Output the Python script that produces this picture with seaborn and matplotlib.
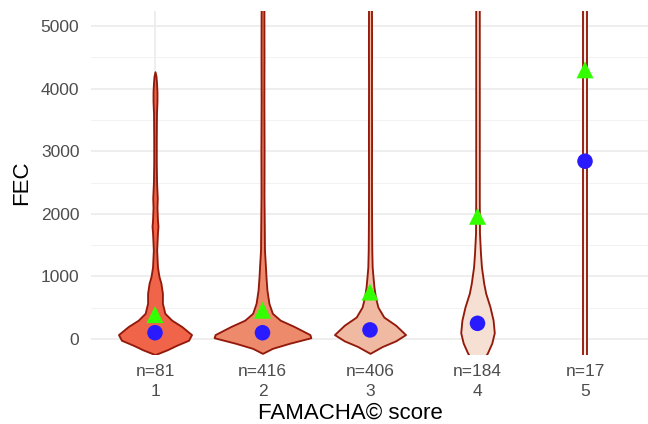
import numpy as np
import pandas as pd
import seaborn as sns
import matplotlib.pyplot as plt
from matplotlib.ticker import MultipleLocator

# FAMACHA score groups and their sample sizes
scores = [1, 2, 3, 4, 5]
n_counts = [81, 416, 406, 184, 17]

# summary points
median_fec = [100, 100, 145, 250, 2840]
mean_fec = [390, 460, 750, 1960, 4300]

# violin profiles: FEC level and relative density (half width) at that level
g1_fec = [-250, -175, -100, -20, 70, 200, 300, 410, 570, 730, 890, 1000, 1150, 1420,
          1700, 1800, 1900, 2100, 2250, 2500, 2800, 3200, 3600, 3800, 3950, 4100, 4200, 4270]
g1_dens = [0, 12, 22, 34, 37, 27, 17, 10, 7.5, 7.5, 6, 4, 2.5, 1.7,
           2.5, 3, 2.5, 2, 2.3, 1.6, 1.3, 1.3, 1.5, 2, 2, 1.5, 1, 0]

g2_fec = [-230, -150, -70, 20, 70, 200, 300, 410, 570, 780, 1000, 1150, 1420, 1800,
          2300, 3000, 3800, 4500, 5400]
g2_dens = [0, 10, 27, 49, 48, 32, 18, 10, 6.5, 4.5, 3.5, 3, 2, 1.8,
           1.5, 1.6, 1.4, 1.5, 1.4]

g3_fec = [-230, -120, -30, 70, 220, 350, 510, 670, 830, 1000, 1150, 1420, 1900, 2500,
          3200, 4000, 4700, 5400]
g3_dens = [0, 12.5, 26, 36, 26, 14, 8, 5.5, 4, 3, 2.2, 1.8, 1.6, 1.5,
           1.6, 1.5, 1.6, 1.5]

g4_fec = [-300, -225, -65, 100, 300, 510, 730, 890, 1150, 1370, 1690, 2200, 3000, 4000, 5400]
g4_dens = [7, 10, 14.5, 17, 15.8, 12.7, 8.3, 6.3, 4, 3, 2, 1.8, 1.8, 1.8, 1.8]

g5_fec = [-300, 5400]
g5_dens = [2.0, 2.0]

profiles = [(g1_fec, g1_dens), (g2_fec, g2_dens), (g3_fec, g3_dens),
            (g4_fec, g4_dens), (g5_fec, g5_dens)]

fills = ["#F0654A", "#EE8A6C", "#F0B9A2", "#F6DFD3", "#FCEFEA"]
outline = "#931A0B"

sns.set_theme(style="whitegrid")
plt.rcParams['font.family'] = ['Liberation Sans', 'DejaVu Sans']

fig = plt.figure(figsize=(6.48, 4.24), dpi=100)
ax = fig.add_axes([90.5 / 648, 1 - 354 / 424, (648 - 90.5) / 648, (354 - 11) / 424])

# widest violin gets a half width of 0.45 category units
max_dens = max(max(d) for _, d in profiles)
scale = 0.45 / max_dens

for x, (fec, dens), fc in zip(scores, profiles, fills):
    fec = np.array(fec)
    half = np.array(dens) * scale
    ax.fill_betweenx(fec, x - half, x + half, facecolor=fc, edgecolor=outline,
                     linewidth=1.35, zorder=2)

df = pd.DataFrame({"score": scores, "median": median_fec, "mean": mean_fec})
sns.scatterplot(data=df, x="score", y="median", color="#2A1AFF", s=125, marker="o",
                edgecolor="none", ax=ax, zorder=3)
sns.scatterplot(data=df, x="score", y="mean", color="#33FF00", s=150, marker="^",
                edgecolor="none", ax=ax, zorder=3)

ax.set_xlim(0.4, 0.4 + 557.5 / 107.5)
ax.set_ylim(-240, 5240)

ax.set_xticks(scores)
ax.set_xticklabels([f"n={n}\n{s}" for n, s in zip(n_counts, scores)])
for lab in ax.get_xticklabels():
    lab.set_linespacing(1.4)
ax.set_yticks([0, 1000, 2000, 3000, 4000, 5000])
ax.yaxis.set_minor_locator(MultipleLocator(500))

ax.grid(which="major", axis="both", color="#EBEBEB", linewidth=1.2)
ax.grid(which="minor", axis="y", color="#F2F2F2", linewidth=0.7)
ax.set_axisbelow(True)
for sp in ax.spines.values():
    sp.set_visible(False)

ax.tick_params(axis="both", which="both", length=0, labelsize=12.5, labelcolor="#4D4D4D")
ax.tick_params(axis="x", pad=7)
ax.tick_params(axis="y", pad=8)

ax.set_xlabel("FAMACHA\u00a9 score", fontsize=16, color="black")
ax.set_ylabel("FEC", fontsize=16, color="black")
ax.xaxis.set_label_coords((350 - 90.5) / 557.5, -0.143)
ax.yaxis.set_label_coords(-0.105, 0.5)

fig.savefig("out.png", dpi=100)
